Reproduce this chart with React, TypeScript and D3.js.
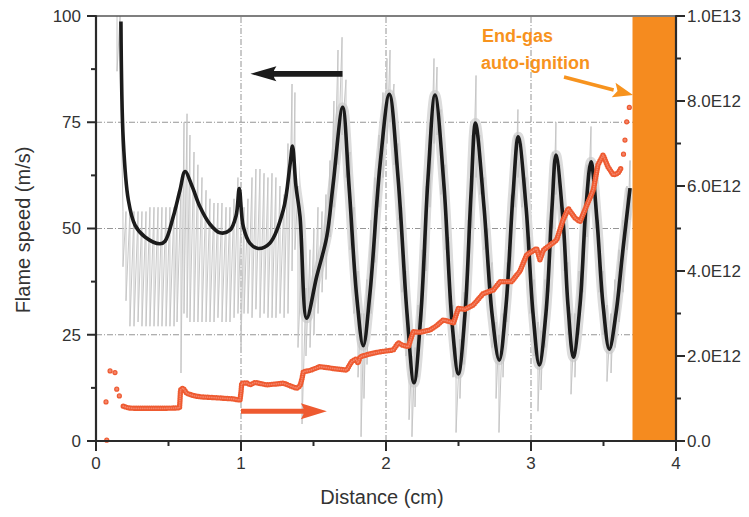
import React from "react";
import * as d3 from "d3";

const W = 749;
const H = 517;

// ---- axes ----
const xTicks = [0, 1, 2, 3, 4];
const xMinorTicks = [0.5, 1.5, 2.5, 3.5];
const yLeftTicks = [0, 25, 50, 75, 100];
const yLeftMinorTicks = [12.5, 37.5, 62.5, 87.5];
const yRightTicks = [0, 2, 4, 6, 8, 10]; // x 1E12
const yRightLabels = ["0.0", "2.0E12", "4.0E12", "6.0E12", "8.0E12", "1.0E13"];
const yRightMinorTicks = [1, 3, 5, 7, 9];
const gridX = [1, 2, 3];
const gridY = [25, 50, 75];

// ---- raw (gray) flame speed signal: distance, high, low ----
const grayDistance = [
  0.145, 0.166, 0.186, 0.207, 0.234, 0.262, 0.29, 0.317, 0.345, 0.372, 0.4, 0.428, 0.455, 0.483, 0.51, 0.538,
  0.559, 0.586, 0.607, 0.628, 0.648, 0.676, 0.703, 0.731, 0.759, 0.786, 0.814, 0.841, 0.869, 0.897, 0.924, 0.952,
  0.979, 1.0, 1.021, 1.048, 1.076, 1.103, 1.131, 1.159, 1.186, 1.214, 1.241, 1.269, 1.297, 1.324, 1.352, 1.372,
  1.393, 1.421, 1.448, 1.476, 1.503, 1.531, 1.559, 1.586, 1.614, 1.641, 1.669, 1.697, 1.724, 1.752, 1.779, 1.807,
  1.828, 1.848, 1.869, 1.897, 1.924, 1.952, 1.979, 2.007, 2.028, 2.055, 2.083, 2.11, 2.138, 2.159, 2.179, 2.2,
  2.221, 2.248, 2.276, 2.303, 2.331, 2.352, 2.379, 2.407, 2.434, 2.462, 2.483, 2.51, 2.538, 2.566, 2.593, 2.621,
  2.648, 2.676, 2.703, 2.731, 2.759, 2.779, 2.807, 2.834, 2.862, 2.89, 2.91, 2.938, 2.966, 2.993, 3.021, 3.048,
  3.069, 3.097, 3.124, 3.152, 3.172, 3.2, 3.228, 3.255, 3.276, 3.303, 3.331, 3.359, 3.386, 3.414, 3.441, 3.469,
  3.497, 3.524, 3.552, 3.579, 3.607, 3.634, 3.662, 3.683,
];
const grayHigh = [
  100, 100, 54, 54, 54, 54, 54, 54, 54, 55, 55, 55, 55, 55, 55, 55,
  56, 60, 75, 77, 72, 68, 65, 62, 59, 57, 56, 56, 56, 55, 55, 57,
  62, 52, 55, 57, 62, 64, 64, 63, 62, 63, 62, 60, 58, 70, 84, 82,
  60, 45, 36, 45, 50, 55, 54, 58, 66, 80, 92, 95, 85, 68, 55, 40,
  30, 30, 38, 52, 62, 72, 82, 90, 92, 84, 70, 55, 40, 25, 20, 22,
  32, 45, 60, 75, 90, 88, 78, 65, 48, 32, 22, 24, 35, 52, 72, 86,
  72, 62, 50, 42, 28, 25, 30, 42, 58, 72, 78, 70, 62, 48, 38, 28,
  26, 38, 52, 68, 75, 65, 55, 42, 30, 30, 40, 52, 65, 74, 64, 52,
  40, 32, 30, 38, 45, 52, 60, 66,
];
const grayLow = [
  87, 92, 41, 33, 27, 27, 28, 27, 27, 27, 27, 27, 27, 27, 27, 27,
  28, 16, 30, 29, 28, 28, 28, 28, 28, 28, 28, 29, 28, 28, 28, 29,
  30, 22, 30, 30, 29, 31, 29, 30, 29, 29, 29, 30, 29, 30, 40, 45,
  22, 4, 20, 22, 25, 30, 35, 38, 48, 55, 65, 72, 62, 45, 30, 15,
  1, 10, 18, 30, 42, 55, 62, 70, 75, 65, 52, 35, 20, 5, 1, 8,
  15, 28, 40, 55, 70, 72, 58, 45, 28, 15, 2, 10, 18, 32, 50, 62,
  58, 45, 35, 22, 10, 2, 15, 28, 40, 55, 62, 55, 45, 30, 20, 7,
  12, 22, 35, 50, 58, 50, 40, 25, 11, 15, 25, 35, 48, 58, 50, 35,
  25, 14, 16, 22, 28, 35, 45, 52,
];

// ---- smoothed flame speed (black) ----
const speedDistance = [
  0.172, 0.188, 0.223, 0.269, 0.338, 0.441, 0.476, 0.533, 0.579, 0.614, 0.662, 0.717, 0.786, 0.855, 0.924, 0.966,
  0.988, 1.016, 1.062, 1.119, 1.2, 1.292, 1.338, 1.355, 1.379, 1.407, 1.453, 1.522, 1.591, 1.634, 1.701, 1.745,
  1.798, 1.843, 1.89, 1.959, 2.023, 2.083, 2.145, 2.193, 2.241, 2.29, 2.338, 2.4, 2.455, 2.499, 2.545, 2.586,
  2.617, 2.676, 2.731, 2.781, 2.828, 2.876, 2.912, 2.966, 3.014, 3.057, 3.103, 3.145, 3.172, 3.221, 3.255, 3.292,
  3.338, 3.379, 3.414, 3.455, 3.497, 3.54, 3.586, 3.634, 3.683,
];
const speedValue = [
  98.7, 70.8, 56.7, 50.8, 48, 46.4, 47.0, 52.8, 59, 63.4, 60, 55.1, 51, 49, 49.6, 53,
  59.4, 50.4, 46.5, 45.3, 46.6, 54.4, 65, 69.4, 60, 52.8, 28.9, 38.7, 48, 60, 78.5, 60,
  34, 22.4, 35, 65, 81.6, 62, 30, 13.7, 30, 62, 81.4, 60, 28, 15.8, 30, 58,
  74.8, 55, 30, 19, 32, 58, 71.6, 55, 30, 17.9, 30, 55, 67.3, 52, 32, 19.7,
  32, 55, 65.7, 52, 32, 21.6, 30, 45, 59.5,
];

// ---- heat release (orange, right axis, x 1E12) ----
const rateDistance = [
  0.188, 0.221, 0.257, 0.372, 0.476, 0.576, 0.579, 0.583, 0.6, 0.626, 0.669, 0.717, 0.821, 0.947, 0.993, 1.0,
  1.005, 1.039, 1.062, 1.097, 1.177, 1.292, 1.338, 1.384, 1.407, 1.419, 1.43, 1.476, 1.545, 1.648, 1.729, 1.763,
  1.793, 1.807, 1.821, 1.89, 1.959, 2.05, 2.085, 2.117, 2.154, 2.188, 2.234, 2.303, 2.352, 2.395, 2.466, 2.499,
  2.545, 2.602, 2.671, 2.74, 2.786, 2.867, 2.924, 2.97, 3.039, 3.062, 3.085, 3.177, 3.221, 3.257, 3.303, 3.338,
  3.379, 3.43, 3.462, 3.497, 3.531, 3.568, 3.6, 3.626,
];
const rateValue = [
  0.82, 0.78, 0.77, 0.77, 0.77, 0.78, 0.95, 1.2, 1.25, 1.12, 1.07, 1.04, 1.02, 0.99, 0.96, 1.15,
  1.36, 1.37, 1.32, 1.38, 1.32, 1.36, 1.3, 1.24, 1.3, 1.44, 1.63, 1.66, 1.75, 1.7, 1.67, 1.87,
  1.93, 1.83, 1.98, 2.05, 2.1, 2.14, 2.31, 2.25, 2.22, 2.57, 2.56, 2.61, 2.72, 2.85, 2.78, 3.12,
  3.1, 3.2, 3.47, 3.55, 3.75, 3.75, 4.0, 4.38, 4.53, 4.26, 4.49, 4.73, 5.2, 5.47, 5.25, 5.16,
  5.5, 5.91, 6.5, 6.73, 6.45, 6.26, 6.3, 6.45,
];
const rateSparseDistance = [0.074, 0.069, 0.097, 0.131, 0.143, 0.161, 3.638, 3.648, 3.66, 3.678];
const rateSparseValue = [0.02, 0.92, 1.65, 1.61, 1.22, 1.06, 6.75, 7.08, 7.51, 7.85];

const autoIgnitionStart = 3.7;
const haloStart = 1.4;

const FONT = "'Liberation Sans', Arial, Helvetica, sans-serif";
const AXIS = "#2a2a2a";
const TEXT = "#333";
const ORANGE_BAR = "#F58B1F";
const ORANGE_TXT = "#F7931E";
const RED = "#EE5A30";

export default function App() {
  const x = d3.scaleLinear().domain([0, 4]).range([96, 676]);
  const yL = d3.scaleLinear().domain([0, 100]).range([441, 16]);
  const yR = d3.scaleLinear().domain([0, 10]).range([441, 16]);

  // gray zig-zag path
  let grayPath = "";
  grayDistance.forEach((d, i) => {
    grayPath += `${i ? "L" : "M"}${x(d)},${yL(grayHigh[i])}L${x(d)},${yL(grayLow[i])}`;
  });

  const blackLine = d3
    .line<number>()
    .x((_, i) => x(speedDistance[i]))
    .y((v) => yL(v))
    .curve(d3.curveCatmullRom.alpha(0.5));
  const blackPath = blackLine(speedValue) || "";

  const rateLine = d3
    .line<number>()
    .x((_, i) => x(rateDistance[i]))
    .y((v) => yR(v));

  const rPath = rateLine(rateValue) || "";

  // annotation arrows (in data coordinates)
  const bArrowY = yL(86.4);
  const bShaftStart = x(1.7);
  const bTip = x(1.065);
  const oArrowY = yL(7.0);
  const oStart = x(1.0);
  const oTip = x(1.592);

  // annotation arrow near orange bar
  const a0 = [564, 77];
  const a1 = [633, 95];
  const ang = Math.atan2(a1[1] - a0[1], a1[0] - a0[0]);
  const hl = 20, hw = 7.5;
  const bx = a1[0] - hl * Math.cos(ang);
  const by = a1[1] - hl * Math.sin(ang);
  const head = [
    [a1[0], a1[1]],
    [bx + hw * Math.sin(ang), by - hw * Math.cos(ang)],
    [bx + 4 * Math.cos(ang), by + 4 * Math.sin(ang)],
    [bx - hw * Math.sin(ang), by + hw * Math.cos(ang)],
  ];

  return (
    <svg
      width={W}
      height={H}
      style={{ position: "fixed", left: 0, top: 0, background: "#fff" }}
      fontFamily={FONT}
    >
      <defs>
        <clipPath id="haloClip">
          <rect x={x(haloStart)} y={yL(100)} width={x(4) - x(haloStart)} height={yL(0) - yL(100)} />
        </clipPath>
      </defs>

      {/* grid */}
      <g stroke="#7a7a7a" strokeWidth={0.8} strokeDasharray="6 2 1 2" fill="none">
        {gridY.map((v) => (
          <line key={"gy" + v} x1={x(0)} x2={x(4)} y1={yL(v)} y2={yL(v)} />
        ))}
        {gridX.map((v) => (
          <line key={"gx" + v} x1={x(v)} x2={x(v)} y1={yL(0)} y2={yL(100)} />
        ))}
      </g>

      {/* raw gray signal */}
      <path d={blackPath} fill="none" stroke="#dcdcdc" strokeWidth={10} clipPath="url(#haloClip)" />
      <path d={grayPath} fill="none" stroke="#c6c6c6" strokeWidth={1} />

      {/* smoothed black */}
      <path d={blackPath} fill="none" stroke="#1b1b1b" strokeWidth={3.6} strokeLinejoin="round" />

      {/* orange heat-release dots */}
      <path d={rPath} fill="none" stroke={RED} strokeWidth={5.4} strokeDasharray="0 2.2" strokeLinecap="round" />
      <path d={rPath} fill="none" stroke="#F4846A" strokeWidth={1.8} strokeDasharray="0 2.2" strokeLinecap="round" />
      {rateSparseDistance.map((d, i) => (
        <circle key={"rs" + i} cx={x(d)} cy={yR(rateSparseValue[i])} r={2} fill="#F4846A" stroke={RED} strokeWidth={1.2} />
      ))}

      {/* auto-ignition bar */}
      <rect x={x(autoIgnitionStart)} y={yL(100) + 1} width={x(4) - x(autoIgnitionStart)} height={yL(0) - yL(100) - 1} fill={ORANGE_BAR} />

      {/* black arrow */}
      <line x1={bShaftStart} x2={bTip + 20} y1={bArrowY} y2={bArrowY} stroke="#1b1b1b" strokeWidth={5.8} />
      <path
        d={`M${bTip},${bArrowY} L${bTip + 26},${bArrowY - 7.5} Q${bTip + 20},${bArrowY} ${bTip + 26},${bArrowY + 7.5} Z`}
        fill="#1b1b1b"
      />

      {/* orange arrow */}
      <line x1={oStart} x2={oTip - 20} y1={oArrowY} y2={oArrowY} stroke={RED} strokeWidth={5} />
      <path
        d={`M${oTip},${oArrowY} L${oTip - 26},${oArrowY - 8} Q${oTip - 20},${oArrowY} ${oTip - 26},${oArrowY + 8} Z`}
        fill={RED}
      />

      {/* annotation */}
      <line x1={a0[0]} y1={a0[1]} x2={bx} y2={by} stroke={ORANGE_TXT} strokeWidth={3.5} />
      <polygon points={head.map((p) => p.join(",")).join(" ")} fill={ORANGE_TXT} />
      <text x={482} y={42} textAnchor="start" fontWeight="bold" fontSize={18} fill={ORANGE_TXT}>
        End-gas
      </text>
      <text x={481} y={69} textAnchor="start" fontWeight="bold" fontSize={18} fill={ORANGE_TXT}>
        auto-ignition
      </text>

      {/* frame / axes */}
      <g stroke={AXIS} fill="none">
        <line x1={x(0)} x2={x(4)} y1={yL(100)} y2={yL(100)} strokeWidth={1.6} stroke="#555" />
        <line x1={x(0)} x2={x(0)} y1={yL(100) - 0.8} y2={yL(0) + 1} strokeWidth={2.2} />
        <line x1={x(4)} x2={x(4)} y1={yL(100) - 0.8} y2={yL(0) + 1} strokeWidth={2.2} />
        <line x1={x(0) - 1} x2={x(4) + 1} y1={yL(0)} y2={yL(0)} strokeWidth={2.2} />
        {xTicks.map((t) => (
          <line key={"xt" + t} x1={x(t)} x2={x(t)} y1={yL(0)} y2={yL(0) + 10} strokeWidth={2} />
        ))}
        {xMinorTicks.map((t) => (
          <line key={"xm" + t} x1={x(t)} x2={x(t)} y1={yL(0)} y2={yL(0) + 5} strokeWidth={2} />
        ))}
        {yLeftTicks.map((t) => (
          <line key={"yt" + t} x1={x(0) - 9} x2={x(0)} y1={yL(t)} y2={yL(t)} strokeWidth={2} />
        ))}
        {yLeftMinorTicks.map((t) => (
          <line key={"ym" + t} x1={x(0) - 5} x2={x(0)} y1={yL(t)} y2={yL(t)} strokeWidth={2} />
        ))}
        {yRightTicks.map((t) => (
          <line key={"rt" + t} x1={x(4)} x2={x(4) + 9} y1={yR(t)} y2={yR(t)} strokeWidth={2} />
        ))}
        {yRightMinorTicks.map((t) => (
          <line key={"rm" + t} x1={x(4)} x2={x(4) + 5} y1={yR(t)} y2={yR(t)} strokeWidth={2} />
        ))}
      </g>

      <g fill={TEXT} fontSize={17}>
        {xTicks.map((t) => (
          <text key={"xl" + t} x={x(t)} y={yL(0) + 28} textAnchor="middle">
            {t}
          </text>
        ))}
        {yLeftTicks.map((t) => (
          <text key={"yl" + t} x={x(0) - 15} y={yL(t)} dy="0.35em" textAnchor="end">
            {t}
          </text>
        ))}
        {yRightTicks.map((t, i) => (
          <text key={"rl" + t} x={x(4) + 11} y={yR(t)} dy="0.35em" textAnchor="start">
            {yRightLabels[i]}
          </text>
        ))}
      </g>

      <text x={382} y={504} textAnchor="middle" fontSize={20} fill={TEXT}>
        Distance (cm)
      </text>
      <text transform="translate(30,230) rotate(-90)" textAnchor="middle" fontSize={20} fill={TEXT}>
        Flame speed (m/s)
      </text>
    </svg>
  );
}
